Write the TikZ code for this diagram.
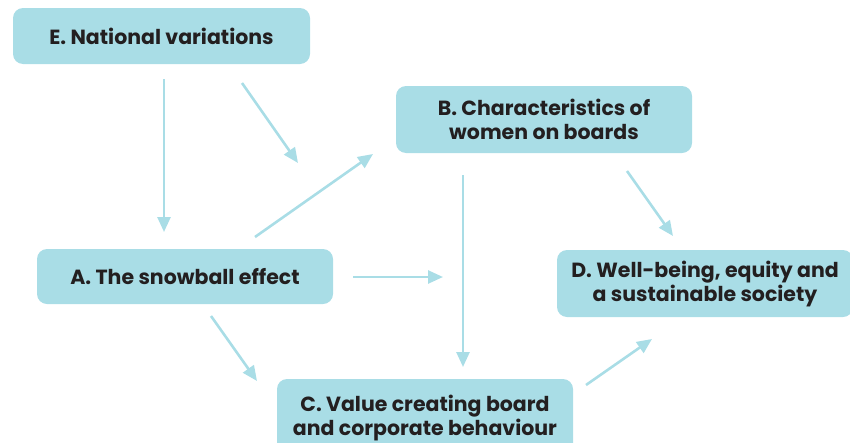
\documentclass[tikz,border=0pt]{standalone}
\usepackage{fontspec}
\setmainfont{Poppins}
\usetikzlibrary{arrows.meta}
\definecolor{boxfill}{HTML}{A9DDE6}
\definecolor{txt}{HTML}{231F20}
\tikzset{
  box/.style={fill=boxfill, draw=none, rounded corners=10pt, inner sep=0pt,
    align=center, text=txt, font=\fontsize{20.5}{24}\selectfont\bfseries},
  link/.style={draw=boxfill, line width=2.6pt,
    -{Triangle[length=15pt,width=13pt]}}
}
\begin{document}
\begin{tikzpicture}[x=1pt,y=-1pt]
\useasboundingbox (0,0) rectangle (850,442);
\begin{scope}
\clip (0,0) rectangle (850,442);
\node[box, minimum width=297pt, minimum height=56pt] (E) at (161.5,36) {E. National variations};
\node[box, minimum width=296pt, minimum height=67pt] (B) at (544,119.5) {B. Characteristics of\\women on boards};
\node[box, minimum width=296pt, minimum height=55pt] (A) at (185,276.5) {A. The snowball effect};
\node[box, minimum width=296pt, minimum height=67pt] (D) at (705,283.5) {D. Well-being, equity and\\a sustainable society};
\node[box, minimum width=296pt, minimum height=78pt] (C) at (425,418) {C. Value creating board\\and corporate behaviour};
\end{scope}
% arrow end points
\coordinate (e1s) at (164,79);  \coordinate (e1t) at (164,232);
\coordinate (e2s) at (242,83);  \coordinate (e2t) at (298,163);
\coordinate (abs) at (255,237); \coordinate (abt) at (373,154);
\coordinate (ars) at (353,277); \coordinate (art) at (443,277);
\coordinate (bds) at (463,175); \coordinate (bdt) at (463,367);
\coordinate (b2s) at (627,171); \coordinate (b2t) at (673,236);
\coordinate (acs) at (211,316); \coordinate (act) at (257,381);
\coordinate (cds) at (586,385); \coordinate (cdt) at (652,339);
\draw[link] (e1s) -- (e1t);
\draw[link] (e2s) -- (e2t);
\draw[link] (abs) -- (abt);
\draw[link] (ars) -- (art);
\draw[link] (bds) -- (bdt);
\draw[link] (b2s) -- (b2t);
\draw[link] (acs) -- (act);
\draw[link] (cds) -- (cdt);
\end{tikzpicture}
\end{document}
